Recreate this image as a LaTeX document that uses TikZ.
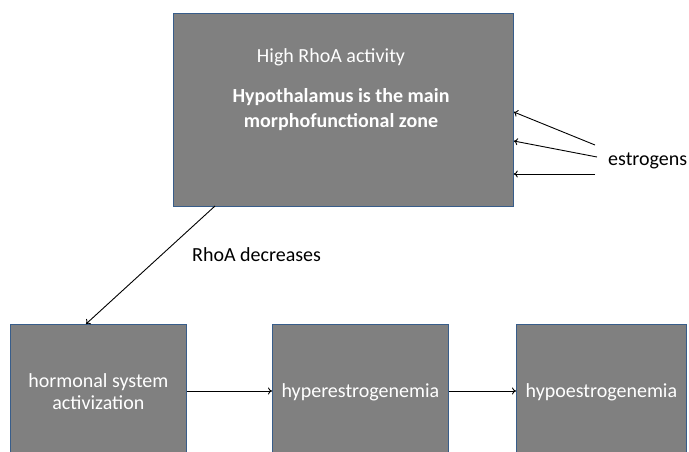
\documentclass[tikz,border=0pt]{standalone}
\usepackage{fontspec}
\usetikzlibrary{arrows.meta}
\setmainfont{Carlito}
\definecolor{boxgray}{RGB}{128,128,128}
\definecolor{boxblue}{RGB}{56,93,138}

\begin{document}
\begin{tikzpicture}[
  x=1pt, y=-1pt,
  every node/.style={
    font=\fontsize{20}{22}\selectfont, inner sep=0pt
  },
  box/.style={
    draw=boxblue, fill=boxgray, text=white, line width=0.8pt,
    align=center, anchor=north west
  },
  label/.style={
    text=white, align=center
  },
  link/.style={
    -{To[length=4pt, width=7pt]}, line width=0.9pt
  }
  ]
  \clip (0,0) rectangle (689,452);
  % top box
  \node[box, minimum width=340, minimum height=193] (hypo) at (173,13) {};
  \node[label, anchor=base] (high) at (331,63) {High RhoA activity};
  \node[label, font=\fontsize{20}{25}\selectfont\bfseries] (zone) at (341,110)
    {Hypothalamus is the main\\morphofunctional zone};
  % bottom row
  \node[box, minimum width=176, minimum height=135] (horm) at (10,324)
    {hormonal system\\activization};
  \node[box, minimum width=176, minimum height=135] (hyper) at (272,324)
    {hyperestrogenemia};
  \node[box, minimum width=170, minimum height=135] (hypoe) at (516,324)
    {hypoestrogenemia};
  % estrogens
  \node[anchor=base west] (estr) at (608,165) {estrogens};
  \coordinate (e1) at (595,145);
  \coordinate (e2) at (597,157);
  \coordinate (e3) at (595,174);
  \draw[link] (e1) -- (hypo.east |- 0,112);
  \draw[link] (e2) -- (hypo.east |- 0,141);
  \draw[link] (e3) -- (hypo.east |- 0,174);
  % connectors
  \coordinate (start) at (215,206);
  \draw[link] (start) -- (86,324);
  \node[anchor=base west] (decr) at (192,261) {RhoA decreases};
  \draw[link] (horm.east |- 0,391) -- (hyper.west |- 0,391);
  \draw[link] (hyper.east |- 0,391) -- (hypoe.west |- 0,391);
\end{tikzpicture}
\end{document}
